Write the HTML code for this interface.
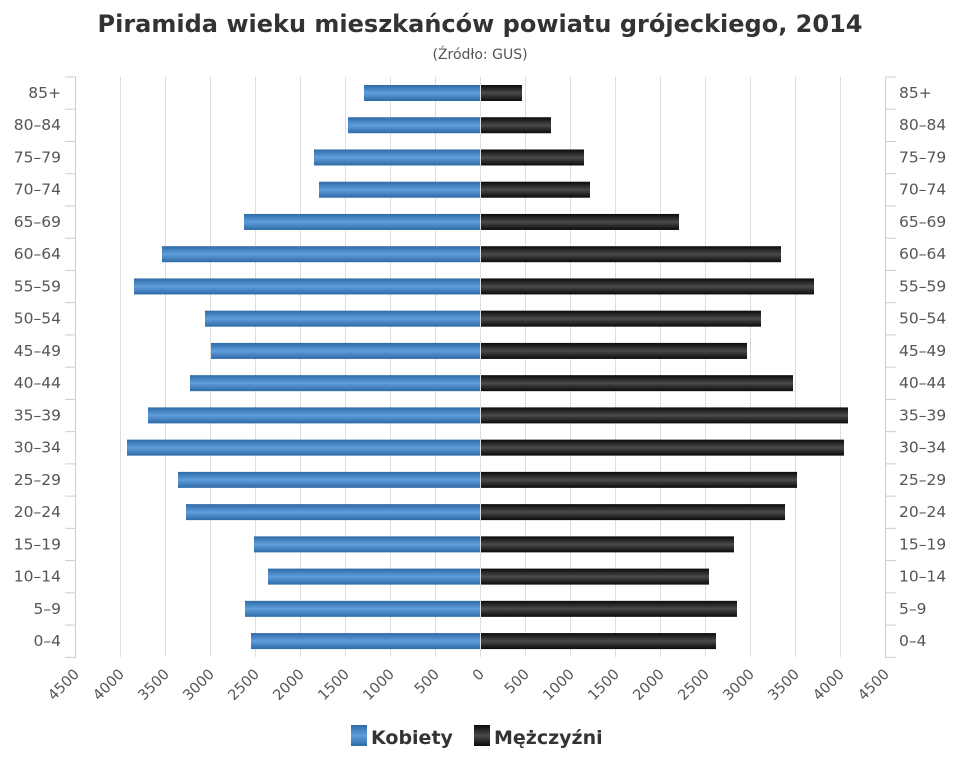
<!DOCTYPE html>
<html><head><meta charset="utf-8"><style>body{margin:0;background:#fff}</style></head><body>
<svg width="960" height="768" xmlns="http://www.w3.org/2000/svg" font-family="'DejaVu Sans','Liberation Sans',sans-serif">
<defs>
<linearGradient id="b" x1="0" y1="0" x2="0" y2="1"><stop offset="0" stop-color="#2f6aa6"/><stop offset="0.5" stop-color="#5f9ddb"/><stop offset="1" stop-color="#2f6aa6"/></linearGradient>
<linearGradient id="k" x1="0" y1="0" x2="0" y2="1"><stop offset="0" stop-color="#0a0a0a"/><stop offset="0.5" stop-color="#4a4a4a"/><stop offset="1" stop-color="#0a0a0a"/></linearGradient>
</defs>
<text x="480" y="32" text-anchor="middle" font-size="24" font-weight="bold" fill="#333">Piramida wieku mieszkańców powiatu grójeckiego, 2014</text>
<text x="480" y="59" text-anchor="middle" font-size="14" fill="#555">(Źródło: GUS)</text>
<g id="grid" stroke="#ddd" stroke-width="1"></g>
<g id="bars"></g>
<g id="lab" font-size="15.5" fill="#555"></g>
<g font-size="19" font-weight="bold" fill="#333">
<rect x="351" y="725" width="16" height="21" fill="url(#b)"/><text x="371" y="744">Kobiety</text>
<rect x="474" y="725" width="16" height="21" fill="url(#k)"/><text x="494" y="744">Mężczyźni</text>
</g>
<script>
var ns="http://www.w3.org/2000/svg";
function el(p,t,a,tx){var e=document.createElementNS(ns,t);for(var k in a)e.setAttribute(k,a[k]);if(tx)e.textContent=tx;document.getElementById(p).appendChild(e);}
var g="grid";
for(var i=0;i<=18;i++){var x=75+i*45;el(g,"line",{x1:x+.5,y1:77,x2:x+.5,y2:657});}
el(g,"line",{x1:75.5,y1:77,x2:75.5,y2:657,stroke:"#ccc"});
el(g,"line",{x1:885.5,y1:77,x2:885.5,y2:657,stroke:"#ccc"});
for(var r=0;r<=18;r++){var y=77+r*32.24;el(g,"line",{x1:65,y1:y,x2:76,y2:y,stroke:"#ccc"});el(g,"line",{x1:885,y1:y,x2:896,y2:y,stroke:"#ccc"});}
var labs=["85+","80–84","75–79","70–74","65–69","60–64","55–59","50–54","45–49","40–44","35–39","30–34","25–29","20–24","15–19","10–14","5–9","0–4"];
var W=[364,348,314,319,244,162,134,205,211,190,148,127,178,186,254,268,245,251];
var M=[522,551,584,590,679,781,814,761,747,793,848,844,797,785,734,709,737,716];
for(var r=0;r<18;r++){var yc=93+r*32.24;
el("bars","rect",{x:W[r],y:yc-8,width:480-W[r],height:16,fill:"url(#b)"});
el("bars","rect",{x:481,y:yc-8,width:M[r]-481,height:16,fill:"url(#k)"});
el("lab","text",{x:61,y:yc+5,"text-anchor":"end"},labs[r]);
el("lab","text",{x:899,y:yc+5},labs[r]);}
for(var i=0;i<=18;i++){var x=75+i*45;var v=Math.abs(4500-i*500);
el("lab","text",{x:x+5,y:675,"text-anchor":"end",transform:"rotate(-45 "+(x+5)+" 675)","font-size":"14.5"},String(v));}
</script>
</svg>
</body></html>
